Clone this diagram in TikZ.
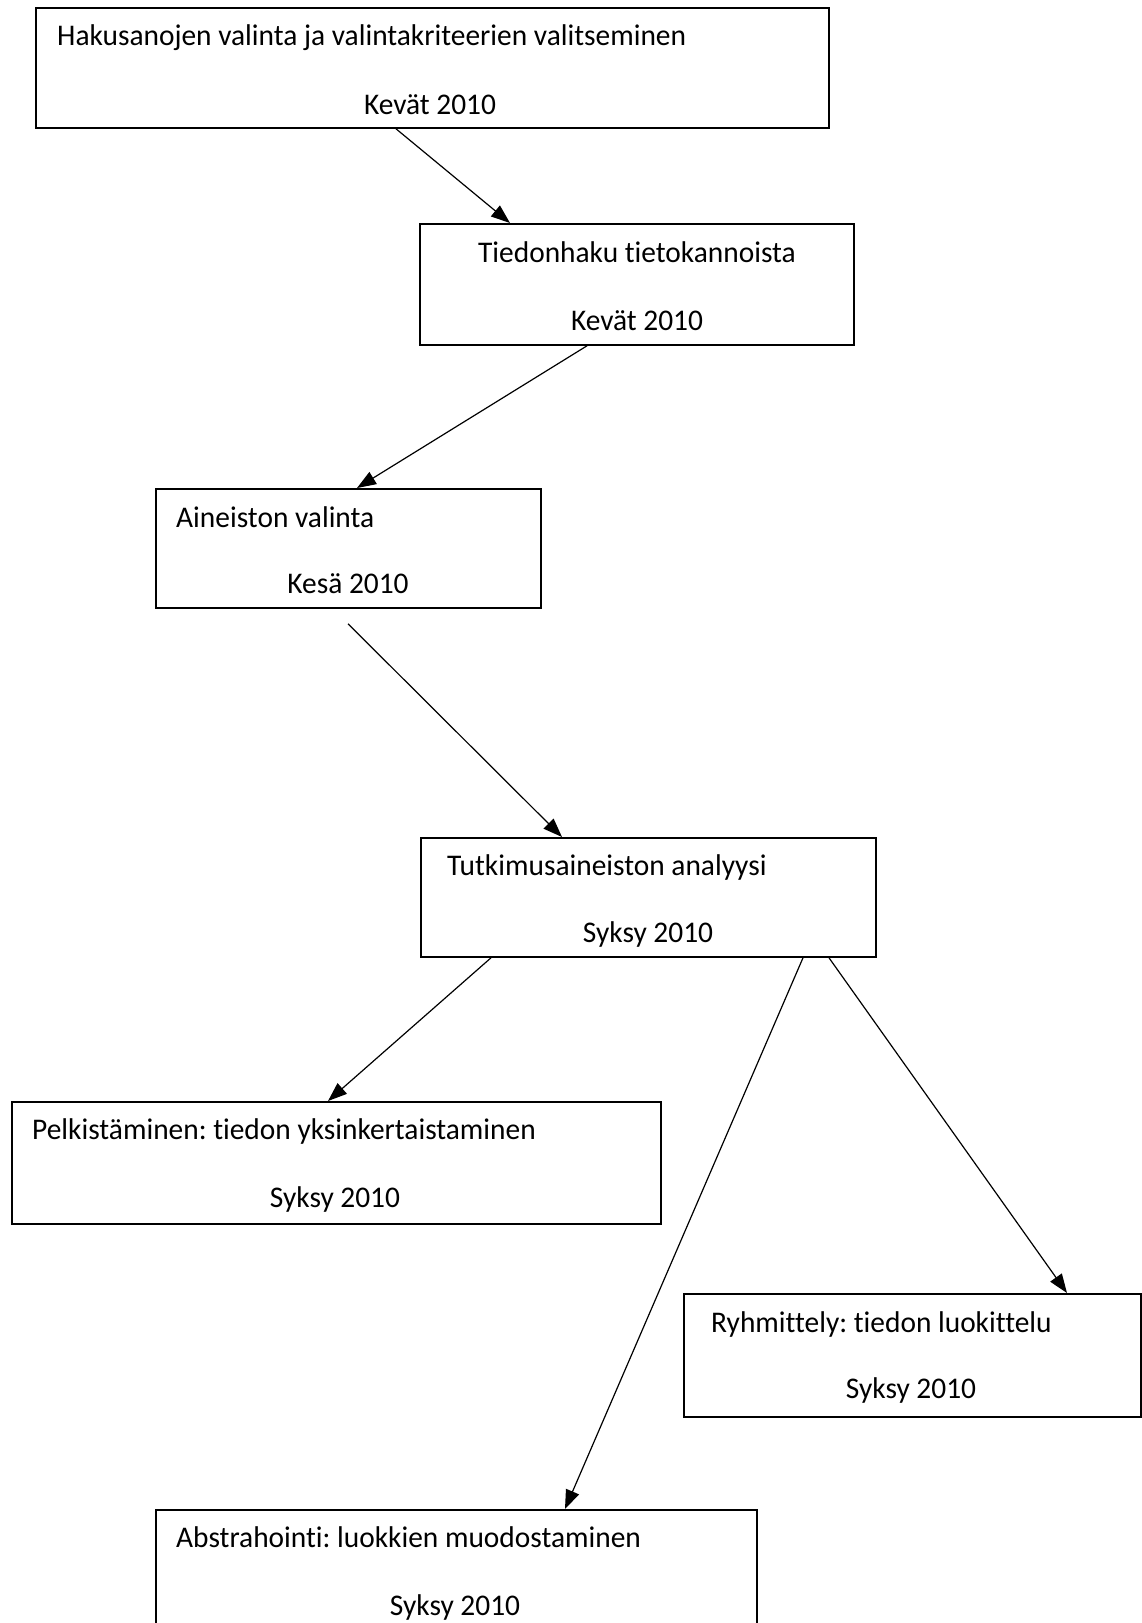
\documentclass[tikz,border=0pt]{standalone}
\usepackage{fontspec}
\setmainfont{Carlito}[Ligatures=NoCommon,FakeStretch=0.98]
\usetikzlibrary{arrows.meta}
\frenchspacing

\tikzset{
  box/.style={draw,rectangle,line width=1.8pt,inner sep=0pt,anchor=north west},
  arr/.style={line width=1.2pt,-{Triangle[length=19pt,width=14pt]}},
  txt/.style={inner sep=0pt,font=\fontsize{30}{36}\selectfont}
}

\begin{document}
\begin{tikzpicture}[x=1pt,y=-1pt]
    \useasboundingbox (0,0) rectangle (1141,1623);

    \node[box,minimum width=793pt,minimum height=120pt] (b1) at (35,7) {};
    \node[box,minimum width=434pt,minimum height=121pt] (b2) at (419,223) {};
    \node[box,minimum width=385pt,minimum height=119pt] (b3) at (155,488) {};
    \node[box,minimum width=455pt,minimum height=119pt] (b4) at (420,837) {};
    \node[box,minimum width=649pt,minimum height=122pt] (b5) at (11,1101) {};
    \node[box,minimum width=457pt,minimum height=123pt] (b6) at (683,1293) {};
    \node[box,minimum width=601pt,minimum height=122pt] (b7) at (155,1509) {};

    \node[txt,anchor=base west] (t1a) at (57,45) {Hakusanojen valinta ja valintakriteerien valitseminen};
    \node[txt,anchor=base] (t1b) at (430,114) {Kevät 2010};
    \node[txt,anchor=base] (t2a) at (637,262) {Tiedonhaku tietokannoista};
    \node[txt,anchor=base] (t2b) at (637,330) {Kevät 2010};
    \node[txt,anchor=base west] (t3a) at (176,527) {Aineiston valinta};
    \node[txt,anchor=base] (t3b) at (348,593) {Kesä 2010};
    \node[txt,anchor=base west] (t4a) at (447,875) {Tutkimusaineiston analyysi};
    \node[txt,anchor=base] (t4b) at (648,942) {Syksy 2010};
    \node[txt,anchor=base west] (t5a) at (32,1139) {Pelkistäminen: tiedon yksinkertaistaminen};
    \node[txt,anchor=base] (t5b) at (335,1207) {Syksy 2010};
    \node[txt,anchor=base west] (t6a) at (711,1332) {Ryhmittely: tiedon luokittelu};
    \node[txt,anchor=base] (t6b) at (911,1398) {Syksy 2010};
    \node[txt,anchor=base west] (t7a) at (176,1547) {Abstrahointi: luokkien muodostaminen};
    \node[txt,anchor=base] (t7b) at (455,1615) {Syksy 2010};

    \coordinate (c3) at ([xshift=193pt,yshift=-15pt]b3.south west);

    \draw[arr] ([xshift=361pt]b1.south west) -- ([xshift=91pt]b2.north west);
    \draw[arr] ([xshift=168pt]b2.south west) -- ([xshift=202pt]b3.north west);
    \draw[arr] (c3) -- ([xshift=142pt]b4.north west);
    \draw[arr] ([xshift=71pt]b4.south west) -- ([xshift=317pt]b5.north west);
    \draw[arr] ([xshift=383pt]b4.south west) -- ([xshift=410pt]b7.north west);
    \draw[arr] ([xshift=409pt]b4.south west) -- ([xshift=384pt]b6.north west);
\end{tikzpicture}
\end{document}
